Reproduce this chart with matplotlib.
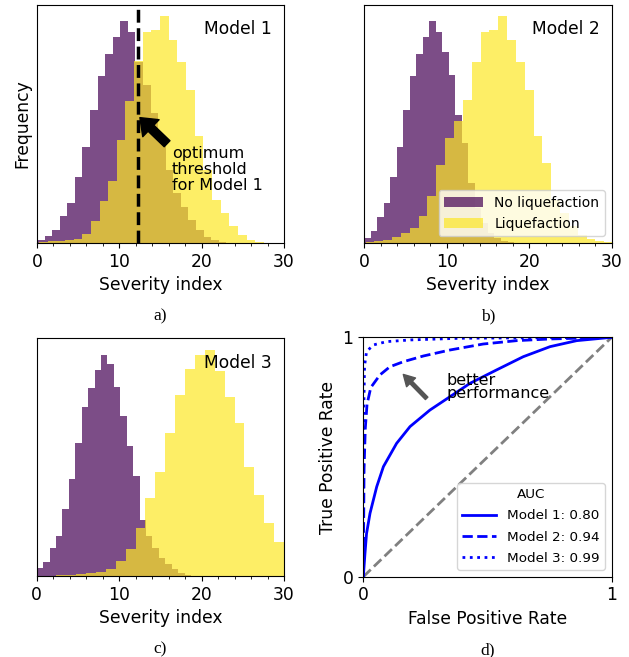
import numpy as np
import matplotlib
matplotlib.use("Agg")
import matplotlib.pyplot as plt
from matplotlib.ticker import MultipleLocator

# --- histogram data (bin start, bin width, counts) ---
noliq_a_start, noliq_a_width = 0.0, 0.92
noliq_a = [3, 7, 13, 27, 40, 66, 96, 133, 167, 188, 205, 221, 210, 180, 158, 130,
           101, 73, 50, 36, 23, 13, 6, 3, 1]
liq_a_start, liq_a_width = 0.25, 1.05
liq_a = [1, 2, 2, 3, 4, 9, 22, 42, 62, 103, 142, 181, 210, 212, 226, 202, 180, 153,
         107, 73, 43, 30, 17, 8, 3, 1]

noliq_b_start, noliq_b_width = 0.0, 0.79
noliq_b = [5, 12, 26, 40, 66, 96, 133, 167, 188, 205, 221, 210, 190, 168, 128, 100,
           60, 35, 20, 10, 5, 2, 1]
liq_b_start, liq_b_width = 0.2, 1.07
liq_b = [1, 2, 3, 6, 10, 15, 27, 47, 78, 105, 122, 143, 180, 210, 212, 226, 202, 180,
         153, 107, 80, 43, 30, 17, 8, 4, 2, 1]

noliq_c_start, noliq_c_width = 0.0, 0.78
noliq_c = [8, 14, 28, 40, 67, 97, 133, 169, 189, 207, 222, 213, 190, 160, 130, 100,
           56, 40, 28, 18, 12, 7, 3, 1]
liq_c_start, liq_c_width = 0.0, 1.2
liq_c = [0, 0, 1, 1, 2, 3, 4, 7, 15, 27, 48, 78, 104, 143, 181, 208, 222, 227, 206,
         179, 153, 109, 81, 53, 34]

threshold_m1 = 12.3

# --- ROC curves ---
fpr_m1 = [0, 0.0067, 0.013, 0.027, 0.054, 0.081, 0.134, 0.188, 0.268, 0.349, 0.43,
          0.537, 0.644, 0.752, 0.859, 1.0]
tpr_m1 = [0, 0.097, 0.18, 0.265, 0.376, 0.46, 0.557, 0.627, 0.696, 0.752, 0.808,
          0.864, 0.919, 0.961, 0.986, 1.0]
fpr_m2 = [0, 0.003, 0.008, 0.015, 0.03, 0.067, 0.107, 0.161, 0.242, 0.349, 0.483,
          0.617, 0.75, 1.0]
tpr_m2 = [0, 0.45, 0.62, 0.72, 0.79, 0.843, 0.877, 0.898, 0.922, 0.947, 0.972,
          0.986, 0.993, 1.0]
fpr_m3 = [0, 0.002, 0.005, 0.013, 0.04, 0.094, 0.19, 0.39, 1.0]
tpr_m3 = [0, 0.7, 0.88, 0.94, 0.968, 0.982, 0.989, 0.996, 1.0]
auc = [0.80, 0.94, 0.99]
chance = [0, 1]

PURPLE = "#440154"
YELLOW = "#fde725"
FS = 12.3

plt.rcParams["font.size"] = FS


def bin_edges(start, width, n):
    return start + width * np.arange(n + 1)


def hist_panel(ax, noliq, noliq_start, noliq_width, liq, liq_start, liq_width, name):
    e = bin_edges(noliq_start, noliq_width, len(noliq))
    ax.hist((e[:-1] + e[1:]) / 2, bins=e, weights=noliq, color=PURPLE, alpha=0.7,
            label="No liquefaction")
    e = bin_edges(liq_start, liq_width, len(liq))
    ax.hist((e[:-1] + e[1:]) / 2, bins=e, weights=liq, color=YELLOW, alpha=0.7,
            label="Liquefaction")
    ax.set_xlim(0, 30)
    ax.set_yticks([])
    ax.xaxis.set_major_locator(MultipleLocator(10))
    ax.xaxis.set_minor_locator(MultipleLocator(2))
    ax.set_xlabel("Severity index", fontsize=FS)
    ax.text(0.95, 0.935, name, transform=ax.transAxes, ha="right", va="top", fontsize=FS)


fig = plt.figure(figsize=(6.29, 6.57), dpi=100)
ax_a = fig.add_axes([0.0588, 0.6301, 0.3927, 0.3623])
ax_b = fig.add_axes([0.5787, 0.6301, 0.3938, 0.3623])
ax_c = fig.add_axes([0.0583, 0.1233, 0.3932, 0.3618])
ax_d = fig.add_axes([0.5776, 0.1222, 0.3949, 0.3644])

hist_panel(ax_a, noliq_a, noliq_a_start, noliq_a_width, liq_a, liq_a_start, liq_a_width, "Model 1")
hist_panel(ax_b, noliq_b, noliq_b_start, noliq_b_width, liq_b, liq_b_start, liq_b_width, "Model 2")
hist_panel(ax_c, noliq_c, noliq_c_start, noliq_c_width, liq_c, liq_c_start, liq_c_width, "Model 3")

ax_a.set_ylabel("Frequency", fontsize=FS)
ax_a.axvline(threshold_m1, color="black", ls="--", lw=2.5)
ax_a.annotate("", xy=(12.5, 125), xytext=(15.8, 99),
              arrowprops=dict(facecolor="black", edgecolor="black", width=6,
                              headwidth=17, headlength=11, shrink=0))
ax_a.text(16.4, 97, "optimum\nthreshold\nfor Model 1", ha="left", va="top",
          fontsize=11.5, linespacing=1.1)

ax_b.legend(loc="lower right", fontsize=10, handlelength=2.8)

# ROC panel
ax_d.plot(chance, chance, color="gray", ls="--", lw=2)
ax_d.plot(fpr_m1, tpr_m1, color="blue", lw=2, ls="-", label=f"Model 1: {auc[0]:.2f}")
ax_d.plot(fpr_m2, tpr_m2, color="blue", lw=2, ls="--", label=f"Model 2: {auc[1]:.2f}")
ax_d.plot(fpr_m3, tpr_m3, color="blue", lw=2, ls=":", label=f"Model 3: {auc[2]:.2f}")
ax_d.set_xlim(0, 1)
ax_d.set_ylim(0, 1)
ax_d.set_xticks([0, 1])
ax_d.set_yticks([0, 1])
ax_d.set_xlabel("False Positive Rate", fontsize=FS)
ax_d.set_ylabel("True Positive Rate", fontsize=FS)
ax_d.annotate("", xy=(0.161, 0.845), xytext=(0.255, 0.745),
              arrowprops=dict(facecolor="#555555", edgecolor="#555555", width=2.5,
                              headwidth=9, headlength=8, shrink=0))
ax_d.text(0.336, 0.85, "better\nperformance", ha="left", va="top", fontsize=11.5,
          linespacing=0.85)
ax_d.legend(title="AUC", loc="lower right", fontsize=9.7, title_fontsize=9.7,
            handlelength=2.5, labelspacing=0.6)

# panel captions
for ax, lab in zip([ax_a, ax_b, ax_c, ax_d], ["a)", "b)", "c)", "d)"]):
    pos = ax.get_position()
    fig.text((pos.x0 + pos.x1) / 2, pos.y0 - 0.112, lab, ha="center", va="center",
             fontsize=12.5, family="Liberation Serif")

plt.savefig("out.png", dpi=100)
